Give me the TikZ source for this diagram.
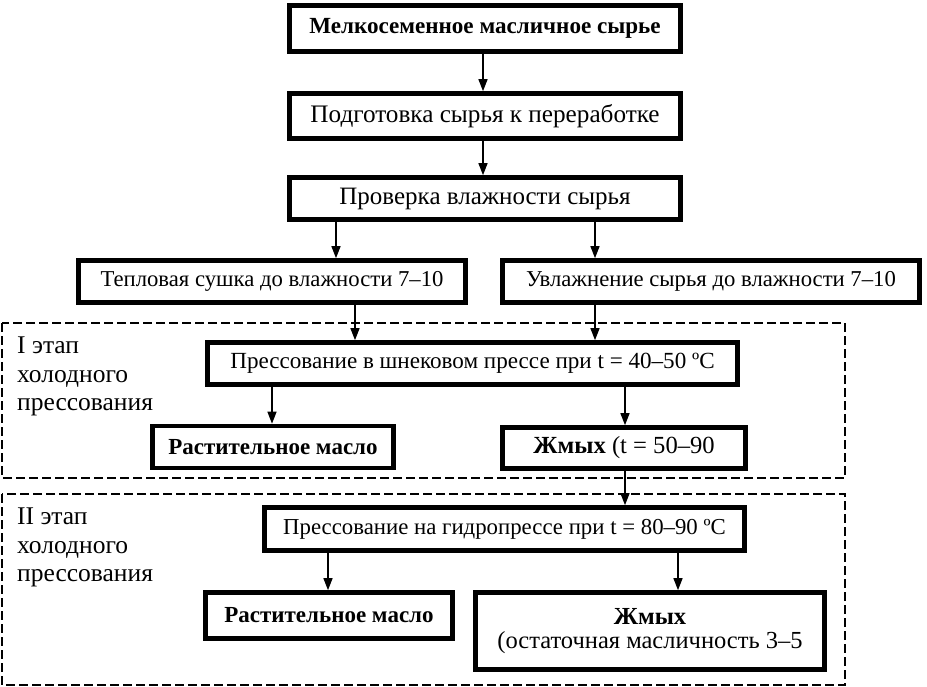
\documentclass[tikz,border=0pt]{standalone}
\usepackage{fontspec}
\setmainfont{Liberation Serif}
\usetikzlibrary{arrows.meta}
\begin{document}
\begin{tikzpicture}[x=1pt,y=-1pt,
  box/.style={draw, line width=4.6pt, inner sep=0pt, align=center},
  fs/.style={font=\fontsize{#1}{24}\selectfont},
  arr/.style={line width=1.3pt, -{Triangle[length=12pt,width=9pt]}},
  stage/.style={draw, line width=1.6pt, dash pattern=on 9pt off 4pt},
  lbl/.style={anchor=base west, inner sep=0pt, font=\fontsize{25.5}{28}\selectfont}]
\useasboundingbox (0,0) rectangle (927,687);
% stage frames
\draw[stage] (2,323) rectangle (845,478);
\draw[stage] (2,494) rectangle (845,685);
% boxes
\node[box, fs=23.1, minimum width=391, minimum height=46] (b1) at (485,28.5) {\bfseries Мелкосеменное масличное сырье};
\node[box, fs=25.2, minimum width=391, minimum height=45] (b2) at (485,116) {Подготовка сырья к переработке};
\node[box, fs=25, minimum width=391, minimum height=42] (b3) at (485,198.5) {Проверка влажности сырья};
\node[box, fs=22.7, minimum width=387, minimum height=42] (b4) at (272,281.5) {Тепловая сушка до влажности 7–10};
\node[box, fs=22.7, minimum width=417, minimum height=42] (b5) at (711,281.5) {Увлажнение сырья до влажности 7–10};
\node[box, fs=23.1, minimum width=530, minimum height=42] (b6) at (472.5,363.5) {Прессование в шнековом прессе при t = 40–50 ºС};
\node[box, fs=23, minimum width=241, minimum height=42] (b7) at (273,447) {\bfseries Растительное масло};
\node[box, fs=24.6, minimum width=243, minimum height=41] (b8) at (624,448) {\textbf{Жмых} (t = 50–90};
\node[box, fs=22.8, minimum width=480, minimum height=43] (b9) at (504.5,529) {Прессование на гидропрессе при t = 80–90 ºС};
\node[box, fs=23, minimum width=247, minimum height=46] (b10) at (329,615.5) {\bfseries Растительное масло};
\node[box, fs=24.5, minimum width=349, minimum height=77] (b11) at (650,631) {\textbf{Жмых}\\(остаточная масличность 3–5};
% stage labels
\node[lbl] (s1a) at (17,353) {I этап};
\node[lbl] (s1b) at (17,382) {холодного};
\node[lbl] (s1c) at (17,410) {прессования};
\node[lbl] (s2a) at (17,524) {II этап};
\node[lbl] (s2b) at (17,553) {холодного};
\node[lbl] (s2c) at (17,581) {прессования};
% arrows
\draw[arr] (483,0 |- b1.south) -- (483,0 |- b2.north);
\draw[arr] (483,0 |- b2.south) -- (483,0 |- b3.north);
\draw[arr] (336,0 |- b3.south) -- (336,0 |- b4.north);
\draw[arr] (595,0 |- b3.south) -- (595,0 |- b5.north);
\draw[arr] (355,0 |- b4.south) -- (355,0 |- b6.north);
\draw[arr] (595,0 |- b5.south) -- (595,0 |- b6.north);
\draw[arr] (272,0 |- b6.south) -- (272,0 |- b7.north);
\draw[arr] (625,0 |- b6.south) -- (625,0 |- b8.north);
\draw[arr] (625,0 |- b8.south) -- (625,0 |- b9.north);
\draw[arr] (328,0 |- b9.south) -- (328,0 |- b10.north);
\draw[arr] (678,0 |- b9.south) -- (678,0 |- b11.north);
\end{tikzpicture}
\end{document}
